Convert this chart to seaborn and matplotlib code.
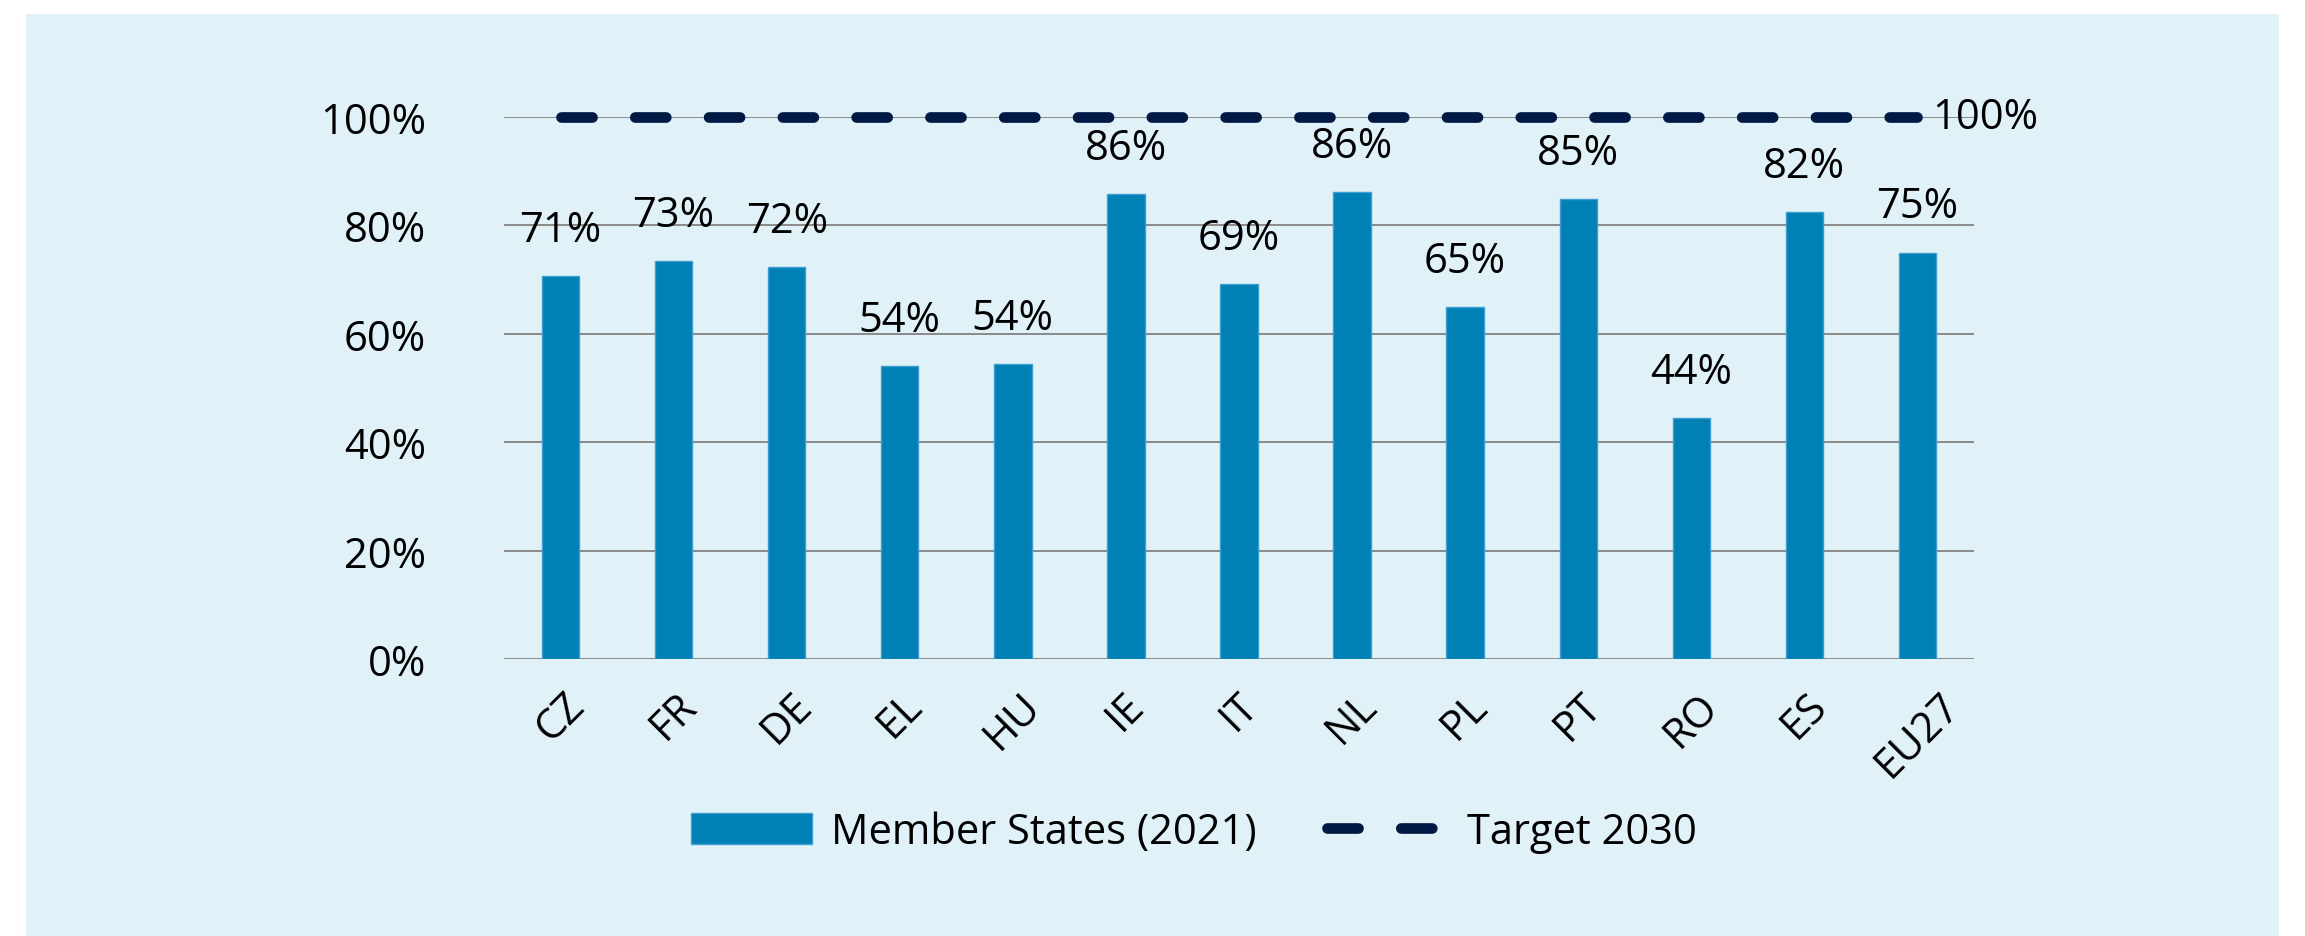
import numpy as np
import matplotlib
matplotlib.use("Agg")
import matplotlib.pyplot as plt
from matplotlib.patches import Rectangle
import seaborn as sns

# data
countries = ["CZ", "FR", "DE", "EL", "HU", "IE", "IT", "NL", "PL", "PT", "RO", "ES", "EU27"]
member_states_2021 = [70.6, 73.4, 72.4, 54.1, 54.4, 85.8, 69.2, 86.2, 64.9, 84.9, 44.5, 82.4, 75.0]
target_2030 = [100] * len(countries)
y_ticks = [0, 20, 40, 60, 80, 100]

bar_color = "#0080b4"
target_color = "#001a45"
panel_color = "#e0f1f8"

sns.set_style("white")
plt.rcParams["font.family"] = ["Open Sans", "DejaVu Sans"]
plt.rcParams["text.color"] = "black"
plt.rcParams["xtick.color"] = "black"
plt.rcParams["ytick.color"] = "black"

fig = plt.figure(figsize=(23.05, 9.37), dpi=100)
fig.patch.set_facecolor("white")
# light blue panel behind everything
fig.patches.append(Rectangle((26 / 2305, 0), (2279 - 26) / 2305, 1 - 15 / 937,
                             transform=fig.transFigure, facecolor=panel_color,
                             edgecolor="none", zorder=-10))

ax = fig.add_axes([504 / 2305, 1 - 660 / 937, (1974 - 504) / 2305, (660 - 118) / 937])
ax.set_facecolor("none")

sns.barplot(x=countries, y=member_states_2021, color=bar_color, width=0.33,
            edgecolor="#3d9fcf", linewidth=1, saturation=1,
            label="Member States (2021)", ax=ax)

ax.bar_label(ax.containers[0],
             labels=[f"{round(v)}%" for v in member_states_2021],
             padding=18, fontsize=30, color="black")

x_pos = np.arange(len(countries))
ax.plot(x_pos, target_2030, color=target_color, lw=7.7, linestyle=(0, (2.9, 4.0)),
        dash_capstyle="round", label="Target 2030", clip_on=False, zorder=4)
ax.text(x_pos[-1] + 0.13, target_2030[-1], f"{target_2030[-1]}%", fontsize=30,
        va="center", ha="left", color="black")

ax.set_ylim(0, 100)
ax.set_xlim(-0.5, len(countries) - 0.5)
ax.set_yticks(y_ticks)
ax.set_yticklabels([f"{t}%" for t in y_ticks], fontsize=30)
ax.yaxis.grid(True, color="#8a8a8a", lw=1.4)
ax.set_axisbelow(True)
for s in ax.spines.values():
    s.set_visible(False)
ax.tick_params(axis="y", length=0, pad=56)
ax.tick_params(axis="x", length=0, pad=18)
plt.setp(ax.get_xticklabels(), rotation=45, ha="center", va="top", fontsize=30)
ax.set_xlabel("")
ax.set_ylabel("")

handles, labels = ax.get_legend_handles_labels()
if ax.get_legend() is not None:
    ax.get_legend().remove()
order = [labels.index("Member States (2021)"), labels.index("Target 2030")]
fig.legend([handles[i] for i in order], [labels[i] for i in order],
           loc="center", bbox_to_anchor=(1194 / 2305, 1 - 833 / 937),
           ncol=2, frameon=False, fontsize=30, handlelength=2.9, handleheight=0.8,
           handletextpad=0.45, columnspacing=1.7)

fig.savefig("out.png", dpi=100, facecolor=fig.get_facecolor())
